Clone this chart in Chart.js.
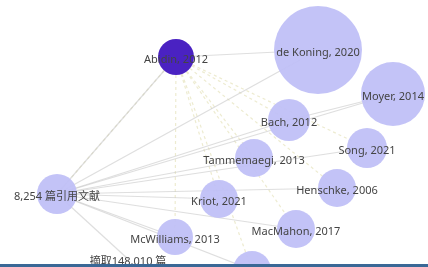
<!DOCTYPE html>
<html>
<head>
<meta charset="utf-8">
<script src="https://cdn.jsdelivr.net/npm/chart.js@4/dist/chart.umd.min.js"></script>
<style>
  html, body { margin: 0; padding: 0; background: #fff; }
  #wrap { width: 428px; height: 264px; border-bottom: 3px solid #3a6896; }
</style>
</head>
<body>
<div id="wrap"><canvas id="graph" width="428" height="264"></canvas></div>
<script>
// Noeuds du graphe de citations
const nodeLabels = ['Abidin, 2012', 'de Koning, 2020', 'Moyer, 2014', 'Bach, 2012', 'Song, 2021',
    'Tammemaegi, 2013', 'Henschke, 2006', 'Kriot, 2021', 'MacMahon, 2017', 'McWilliams, 2013',
    '8,254 篇引用文献', '摘取148,010 篇', ''];
const layoutX = [176, 318, 393, 289, 367, 254, 337, 219, 296, 175, 57, 128, 252];
const layoutY = [57, 50, 94, 120, 148, 158, 188, 199, 229, 237, 194, 259, 270];
const nodeWeight = [18, 44, 32, 21, 20, 19, 19, 19, 19, 18, 20, 0, 19];

// Liens : depuis le noeud "citations" (plein) et depuis Abidin (pointillés)
const solidFrom = [10, 10, 10, 10, 10, 10, 10, 10, 10, 10, 10, 10, 0, 3];
const solidTo = [0, 1, 2, 3, 4, 5, 6, 7, 8, 9, 11, 12, 1, 2];
const dashFrom = [0, 0, 0, 0, 0, 0, 0, 0, 0];
const dashTo = [3, 4, 5, 6, 7, 8, 9, 10, 12];

const nodeData = nodeLabels.map((l, i) => ({ x: layoutX[i], y: layoutY[i], r: nodeWeight[i] }));

// Les noeuds en premier : Chart.js dessine le premier dataset par-dessus
const datasets = [{
    type: 'bubble',
    data: nodeData,
    backgroundColor: nodeLabels.map((l, i) => i === 0 ? '#4a22c2' : 'rgba(192,192,247,0.95)'),
    borderWidth: 0,
    clip: false
}];

function addEdges(from, to, color, dash) {
    from.forEach((a, i) => {
        const b = to[i];
        datasets.push({
            type: 'line',
            data: [{ x: layoutX[a], y: layoutY[a] }, { x: layoutX[b], y: layoutY[b] }],
            borderColor: color,
            borderWidth: 1.2,
            borderDash: dash,
            pointRadius: 0,
            clip: false
        });
    });
}
addEdges(solidFrom, solidTo, 'rgba(200,200,200,0.6)', []);
addEdges(dashFrom, dashTo, 'rgba(222,218,170,0.55)', [3, 3]);

// Étiquettes centrées sur chaque noeud
const labelPlugin = {
    id: 'nodeLabels',
    afterDatasetsDraw(chart) {
        const ctx = chart.ctx;
        const meta = chart.getDatasetMeta(0);
        ctx.save();
        ctx.font = '11px "Noto Sans", "Noto Sans CJK SC", sans-serif';
        ctx.fillStyle = '#444';
        ctx.textAlign = 'center';
        ctx.textBaseline = 'middle';
        meta.data.forEach((pt, i) => {
            if (nodeLabels[i]) ctx.fillText(nodeLabels[i], pt.x, pt.y + 3);
        });
        ctx.restore();
    }
};

new Chart(document.getElementById('graph').getContext('2d'), {
    type: 'bubble',
    data: { datasets: datasets },
    options: {
        responsive: false,
        animation: false,
        layout: { padding: 0, autoPadding: false },
        plugins: { legend: { display: false }, tooltip: { enabled: false } },
        scales: {
            x: { type: 'linear', min: 0, max: 428, display: false },
            y: { type: 'linear', min: 0, max: 264, reverse: true, display: false }
        }
    },
    plugins: [labelPlugin]
});
</script>
</body>
</html>
